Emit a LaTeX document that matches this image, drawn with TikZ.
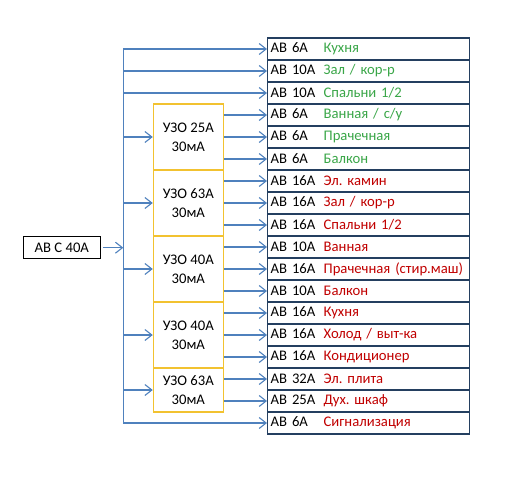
\documentclass[tikz,border=0pt]{standalone}
\usepackage{fontspec}
\setmainfont{Carlito}
\usetikzlibrary{arrows.meta}
\definecolor{wireblue}{HTML}{4F81BD}
\definecolor{tabblue}{HTML}{243F60}
\definecolor{rcdgold}{HTML}{F2C230}
\definecolor{lightgrn}{HTML}{3AA648}
\definecolor{darkred}{HTML}{C00000}
\newcommand{\gr}[2]{\makebox[53pt][l]{#1}\textcolor{lightgrn}{#2}}
\newcommand{\rd}[2]{\makebox[53pt][l]{#1}\textcolor{darkred}{#2}}
\frenchspacing

\begin{document}
\begin{tikzpicture}[x=1pt,y=-1pt]
    \tikzstyle{every node}=[font=\fontsize{14.67}{18.7}\selectfont]
    \tikzstyle{row}=[draw=tabblue, line width=1.3pt, anchor=west, minimum height=22pt,
        text width=196pt, inner xsep=3pt, inner ysep=0pt, align=left]
    \tikzstyle{rcd}=[draw=rcdgold, line width=1.1pt, minimum width=70pt, inner sep=0pt, align=center]
    \tikzstyle{wire}=[wireblue, line width=1.1pt]
    \tikzstyle{arr}=[wire, -{Straight Barb[length=7pt,width=11pt]}]
    \useasboundingbox (0,0) rectangle (507,487);

     % outgoing breakers
     \node[row] (r1) at (267,49) {\gr{АВ 6А}{Кухня}};
     \node[row] (r2) at (267,71) {\gr{АВ 10А}{Зал / кор-р}};
     \node[row] (r3) at (267,93) {\gr{АВ 10А}{Спальни 1/2}};
     \node[row] (r4) at (267,115) {\gr{АВ 6А}{Ванная / с/у}};
     \node[row] (r5) at (267,137) {\gr{АВ 6А}{Прачечная}};
     \node[row] (r6) at (267,159) {\gr{АВ 6А}{Балкон}};
     \node[row] (r7) at (267,181) {\rd{АВ 16А}{Эл. камин}};
     \node[row] (r8) at (267,203) {\rd{АВ 16А}{Зал / кор-р}};
     \node[row] (r9) at (267,225) {\rd{АВ 16А}{Спальни 1/2}};
     \node[row] (r10) at (267,247) {\rd{АВ 10А}{Ванная}};
     \node[row] (r11) at (267,269) {\rd{АВ 16А}{Прачечная (стир.маш)}};
     \node[row] (r12) at (267,291) {\rd{АВ 10А}{Балкон}};
     \node[row] (r13) at (267,313) {\rd{АВ 16А}{Кухня}};
     \node[row] (r14) at (267,335) {\rd{АВ 16А}{Холод / выт-ка}};
     \node[row] (r15) at (267,357) {\rd{АВ 16А}{Кондиционер}};
     \node[row] (r16) at (267,379) {\rd{АВ 32А}{Эл. плита}};
     \node[row] (r17) at (267,401) {\rd{АВ 25А}{Дух. шкаф}};
     \node[row] (r18) at (267,423) {\rd{АВ 6А}{Сигнализация}};

     % RCDs
     \node[rcd, minimum height=66pt] (u1) at (188.3,137) {УЗО 25А\\30мА};
     \node[rcd, minimum height=66pt] (u2) at (188.3,203) {УЗО 63А\\30мА};
     \node[rcd, minimum height=66pt] (u3) at (188.3,269) {УЗО 40А\\30мА};
     \node[rcd, minimum height=66pt] (u4) at (188.3,335) {УЗО 40А\\30мА};
     \node[rcd, minimum height=44pt] (u5) at (188.3,390) {УЗО 63А\\30мА};

     % main breaker and bus
     \node[draw, line width=1.2pt, minimum width=77pt, minimum height=22pt, inner sep=0pt] (main) at (61.8,247.7) {АВ С 40А};
     \coordinate (bus) at (123.3,247.7);
     \draw[arr, shorten <=2pt] (main) -- (bus);
     \draw[wire] (bus |- r1.west) -- (bus |- r18.west);

     \draw[arr] (bus |- r1.west) -- (r1.west);
     \draw[arr] (bus |- r2.west) -- (r2.west);
     \draw[arr] (bus |- r3.west) -- (r3.west);
     \draw[arr] (bus |- r18.west) -- (r18.west);

     \draw[arr] (bus |- u1.west) -- (u1.west);
     \draw[arr] (bus |- u2.west) -- (u2.west);
     \draw[arr] (bus |- u3.west) -- (u3.west);
     \draw[arr] (bus |- u4.west) -- (u4.west);
     \draw[arr] (bus |- u5.west) -- (u5.west);

     \draw[arr] (u1.east |- r4.west) -- (r4.west);
     \draw[arr] (u1.east |- r5.west) -- (r5.west);
     \draw[arr] (u1.east |- r6.west) -- (r6.west);
     \draw[arr] (u2.east |- r7.west) -- (r7.west);
     \draw[arr] (u2.east |- r8.west) -- (r8.west);
     \draw[arr] (u2.east |- r9.west) -- (r9.west);
     \draw[arr] (u3.east |- r10.west) -- (r10.west);
     \draw[arr] (u3.east |- r11.west) -- (r11.west);
     \draw[arr] (u3.east |- r12.west) -- (r12.west);
     \draw[arr] (u4.east |- r13.west) -- (r13.west);
     \draw[arr] (u4.east |- r14.west) -- (r14.west);
     \draw[arr] (u4.east |- r15.west) -- (r15.west);
     \draw[arr] (u5.east |- r16.west) -- (r16.west);
     \draw[arr] (u5.east |- r17.west) -- (r17.west);
\end{tikzpicture}
\end{document}
